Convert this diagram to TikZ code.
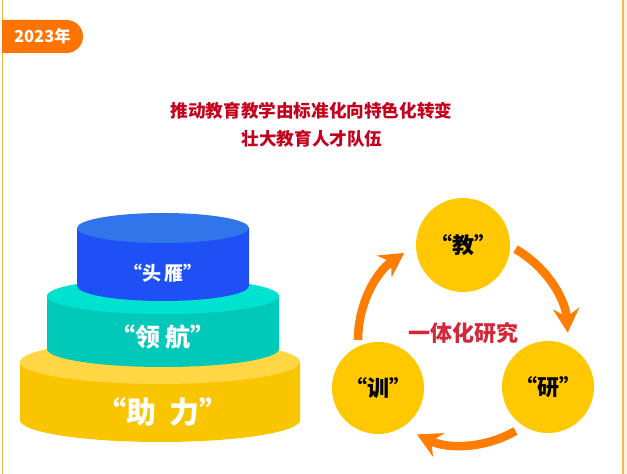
\documentclass[tikz,border=0pt]{standalone}
\usepackage{fontspec}
\setmainfont{Noto Sans CJK SC}
\usetikzlibrary{arrows.meta}
\definecolor{frameline}{HTML}{F9B552}
\definecolor{framefill}{HTML}{FDEFE4}
\definecolor{badgeorange}{HTML}{FF7400}
\definecolor{titlered}{HTML}{C4001C}
\definecolor{centerred}{HTML}{D3283A}
\definecolor{ringorange}{HTML}{FF7D00}
\definecolor{discyellow}{HTML}{FFC800}
\definecolor{ytop}{HTML}{FFD745}
\definecolor{yside}{HTML}{F9C500}
\definecolor{ttop}{HTML}{00E2D0}
\definecolor{tside}{HTML}{00C9B9}
\definecolor{btop}{HTML}{3075EA}
\definecolor{bside}{HTML}{1F50F5}
% cylinder: cx, top y, bottom y, rx, ry, side colour, top colour
\newcommand{\cylinder}[7]{%
  \fill[#6] (#1-#4,#2) -- (#1-#4,#3) arc[start angle=180,end angle=360,x radius=#4,y radius=#5] -- (#1+#4,#2) -- cycle;
  \fill[#7] (#1,#2) ellipse[x radius=#4,y radius=#5];
}
\begin{document}
\begin{tikzpicture}[
    x=1pt, y=1pt,
    title/.style={text=titlered, font=\bfseries\fontsize{17.6}{17.6}\selectfont},
    layer/.style={text=white, font=\bfseries},
    disc/.style={circle, fill=discyellow, minimum size=#1, inner sep=0pt, font=\bfseries\fontsize{22}{22}\selectfont},
    arrow/.style={ringorange, line width=8.5pt, -{Stealth[length=24pt, width=26pt, inset=8pt]}}
]
\useasboundingbox (0,0) rectangle (627,474);

% Frame
\fill[framefill] (623.5,0) rectangle (627,474);
\draw[frameline, line width=1.2pt] (2.5,0) -- (2.5,474);
\draw[frameline, line width=1.2pt] (623,0) -- (623,474);

% Year badge
\fill[badgeorange] (2,421) -- (66.5,421) arc[start angle=-90,end angle=90,radius=16.5] -- (2,454) -- cycle;
\node[text=white, font=\bfseries\fontsize{16.5}{16.5}\selectfont] (year) at (42.5,437.5) {2023年};

% Title
\node[title] (title1) at (311.5,363) {推动教育教学由标准化向特色化转变};
\node[title] (title2) at (312,335) {壮大教育人才队伍};

% Layered cylinders
\cylinder{160}{112}{54}{140}{22}{yside}{ytop}
\cylinder{163}{178}{125}{116}{18}{tside}{ttop}
\cylinder{163}{246}{188}{86}{15}{bside}{btop}
\node[layer, font=\bfseries\fontsize{19}{19}\selectfont] (toutan) at (163,201) {“头\,雁”};
\node[layer, font=\bfseries\fontsize{25}{25}\selectfont] (linghang) at (163,137) {“领\ 航”};
\node[layer, font=\bfseries\fontsize{30}{30}\selectfont] (zhuli) at (163,62) {“助\ \ 力”};

% Cycle of discs
\node[disc=94pt] (jiao) at (463,229) {“教”};
\node[disc=92pt] (yan) at (548,87) {“研”};
\node[disc=92pt] (xun) at (378,86) {“训”};
\node[text=centerred, font=\bfseries\fontsize{22}{22}\selectfont] (center) at (463,141) {一体化研究};

% Arrows
\coordinate (ring) at (463,134);
\draw[arrow] ([shift={(60:105)}]ring) arc[start angle=60, end angle=4, radius=105];
\draw[arrow] ([shift={(-60:105)}]ring) arc[start angle=-60, end angle=-116, radius=105];
\draw[arrow] ([shift={(180:105)}]ring) arc[start angle=180, end angle=124, radius=105];

\end{tikzpicture}
\end{document}
